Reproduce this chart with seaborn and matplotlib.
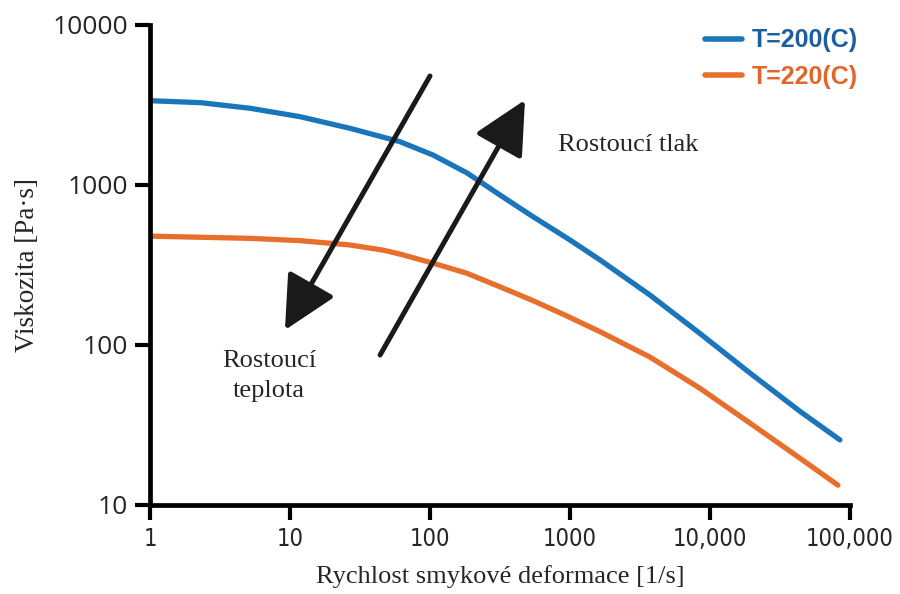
import numpy as np
import pandas as pd
import matplotlib
matplotlib.use("Agg")
import matplotlib.pyplot as plt
import seaborn as sns

# viscosity curves (log-log)
rate_200 = [1, 2.3, 5.2, 11.8, 26.8, 61, 105, 184, 316, 544, 1000, 1640,
            3730, 8480, 19300, 43900, 84800]
visc_200 = [3365, 3270, 3016, 2673, 2261, 1865, 1540, 1189, 866, 634, 453, 340,
            205, 118, 66.8, 38.5, 25.5]
rate_220 = [1, 5.2, 11.8, 26.8, 46, 61, 106, 183, 316, 547, 947, 1640,
            3730, 8480, 19300, 43900, 82000]
visc_220 = [479, 464, 449, 422, 392, 370, 324, 281, 231, 189, 152, 121,
            84, 53.6, 32.5, 19.6, 13.3]
labels = ["T=200(C)", "T=220(C)"]
colors = ["#1B75BB", "#E86E2C"]
text_colors = ["#1C5E9E", "#E2662A"]

x_ticks = [1, 10, 100, 1000, 10000, 100000]
x_ticklabels = ["1", "10", "100", "1000", "10,000", "100,000"]
y_ticks = [10, 100, 1000, 10000]
y_ticklabels = ["10", "100", "1000", "10000"]

df = pd.concat([
    pd.DataFrame({"rate": rate_200, "visc": visc_200, "T": labels[0]}),
    pd.DataFrame({"rate": rate_220, "visc": visc_220, "T": labels[1]}),
])

sns.set_style("ticks")
plt.rcParams["font.family"] = ["Liberation Serif", "DejaVu Serif"]

fig = plt.figure(figsize=(9, 5.94), dpi=100)
ax = fig.add_axes([150 / 900, 89 / 594, 700 / 900, 480 / 594])

sns.lineplot(data=df, x="rate", y="visc", hue="T", palette=colors,
             linewidth=3.8, ax=ax, sort=False)

ax.set_xscale("log")
ax.set_yscale("log")
ax.set_xlim(1, 100000)
ax.set_ylim(10, 10000)
ax.minorticks_off()
ax.set_xticks(x_ticks)
ax.set_xticklabels(x_ticklabels, family=["Liberation Sans Narrow", "DejaVu Sans"],
                   fontstretch="condensed", fontsize=17)
ax.set_yticks(y_ticks)
ax.set_yticklabels(y_ticklabels, family=["Open Sans", "DejaVu Sans"], fontsize=19)
ax.tick_params(length=11, width=3, color="black", pad=5,
               bottom=True, left=True, direction="out")

for s in ["top", "right"]:
    ax.spines[s].set_visible(False)
for s in ["left", "bottom"]:
    ax.spines[s].set_linewidth(3.4)
    ax.spines[s].set_color("black")

ax.set_xlabel("Rychlost smykové deformace [1/s]", fontsize=19, labelpad=10)
ax.set_ylabel("Viskozita [Pa·s]", fontsize=19.5, labelpad=9)

# arrows and annotations
arrow = dict(arrowstyle="-|>,head_length=1.1,head_width=0.55", lw=3.6,
             color="#1a1a1a", mutation_scale=30, shrinkA=0, shrinkB=0)
ax.annotate("", xy=(9.2, 124), xytext=(100, 4800), arrowprops=arrow)
ax.annotate("", xy=(477, 3400), xytext=(44, 86.6), arrowprops=arrow)
ax.text(821, 1780, "Rostoucí tlak", fontsize=19, ha="left", va="center")
ax.text(7.1, 64, "Rostoucí\nteplota", fontsize=19, ha="center", va="center",
        linespacing=1.45)

leg = ax.legend(loc="upper right", bbox_to_anchor=(0.978, 0.99),
                bbox_transform=fig.transFigure, frameon=False,
                prop={"family": ["Liberation Sans", "DejaVu Sans"], "weight": "bold", "size": 18},
                handlelength=1.45, handletextpad=0.4, labelspacing=0.5)
for txt, c in zip(leg.get_texts(), text_colors):
    txt.set_color(c)
for h in leg.get_lines():
    h.set_linewidth(4)

fig.savefig("out.png", dpi=100)
